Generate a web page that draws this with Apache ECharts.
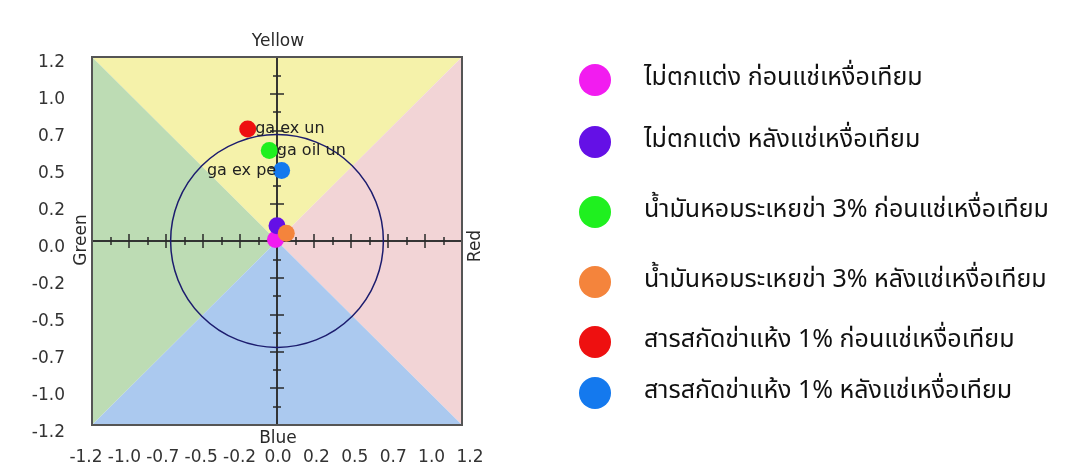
<!DOCTYPE html>
<html>
<head>
<meta charset="utf-8">
<script src="https://cdn.jsdelivr.net/npm/echarts@6/dist/echarts.min.js"></script>
<style>
  html, body { margin: 0; padding: 0; background: #ffffff; }
  #chart { width: 1075px; height: 476px; }
</style>
</head>
<body>
<div id="chart"></div>
<script>
// Colour-plane scatter: a* (green–red) against b* (blue–yellow)
const seriesNames = [
  'ไม่ตกแต่ง ก่อนแช่เหงื่อเทียม',
  'ไม่ตกแต่ง หลังแช่เหงื่อเทียม',
  'น้ำมันหอมระเหยข่า 3% ก่อนแช่เหงื่อเทียม',
  'น้ำมันหอมระเหยข่า 3% หลังแช่เหงื่อเทียม',
  'สารสกัดข่าแห้ง 1% ก่อนแช่เหงื่อเทียม',
  'สารสกัดข่าแห้ง 1% หลังแช่เหงื่อเทียม'
];
const aValues = [-0.01, 0.00, -0.05, 0.06, -0.19, 0.03];
const bValues = [0.01, 0.10, 0.59, 0.05, 0.73, 0.46];
const pointLabels = ['', '', 'ga oil un', '', 'ga ex un', 'ga ex pe'];
const circleRadius = [0.69];
const tickLabels = ['-1.2', '-1.0', '-0.7', '-0.5', '-0.2', '0.0', '0.2', '0.5', '0.7', '1.0', '1.2'];
const axisRange = [-1.2, 1.2];
const axisStep = 0.24;
const directionNames = ['Yellow', 'Blue', 'Green', 'Red'];

// styling
const dotColors = ['#f21cf0', '#6410e6', '#1ff01f', '#f4843c', '#ee1010', '#1479ee'];
const labelSides = ['right', 'right', 'right', 'right', 'right', 'left'];
const legendCentres = [75, 137, 207, 277, 337, 388];
const quadrantColors = { top: '#f5f2aa', left: '#bddcb4', right: '#f2d4d6', bottom: '#abc9ef' };
const tickFont = '"DejaVu Sans", "Liberation Sans", sans-serif';
const thaiFont = '"Noto Sans Thai", "Noto Sans", "DejaVu Sans", sans-serif';

const chart = echarts.init(document.getElementById('chart'));

const [lo, hi] = axisRange;

function crossAxis(extra) {
  return Object.assign({
    gridIndex: 0, type: 'value', min: lo, max: hi, interval: axisStep,
    axisLine: { onZero: true, onZeroAxisIndex: 0, lineStyle: { color: '#2a2a2a', width: 1.5 } },
    axisTick: { show: true, inside: false, length: 7, lineStyle: { color: '#2a2a2a', width: 1.5 } },
    minorTick: { show: true, splitNumber: 2, length: 4, lineStyle: { color: '#2a2a2a', width: 1.5 } },
    axisLabel: { show: false },
    splitLine: { show: false }
  }, extra);
}

function labelAxis(extra) {
  return Object.assign({
    gridIndex: 1, type: 'value', min: lo, max: hi, interval: axisStep,
    axisLine: { show: false }, axisTick: { show: false }, splitLine: { show: false }
  }, extra);
}

const tickLabelStyle = (margin) => ({
  color: '#333', fontFamily: tickFont, fontSize: 17, margin: margin,
  formatter: (v, i) => tickLabels[i]
});

const scatterSeries = seriesNames.map((name, i) => ({
  name: name,
  type: 'scatter',
  xAxisIndex: 0, yAxisIndex: 0,
  symbol: 'circle', symbolSize: 17,
  itemStyle: { color: dotColors[i], opacity: 1 },
  z: 5 + i,
  data: [[aValues[i], bValues[i]]],
  label: {
    show: pointLabels[i] !== '',
    position: labelSides[i],
    distance: labelSides[i] === 'left' ? -3 : -1,
    formatter: () => pointLabels[i],
    color: '#222', fontFamily: tickFont, fontSize: 16
  },
  emphasis: { disabled: true }
}));

const nameText = (text, x, y, rotation) => ({
  type: 'text', x: x, y: y, rotation: rotation || 0,
  style: { text: text, fill: '#2a2a2a', font: '17px ' + tickFont, textAlign: 'center', textVerticalAlign: 'middle' }
});

const option = {
  animation: false,
  backgroundColor: '#ffffff',
  grid: [
    { left: 92, top: 57, width: 370, height: 368, show: true, borderColor: '#555', borderWidth: 2, backgroundColor: 'transparent', z: 3 },
    { left: 86, top: 63, width: 384, height: 370, show: false }
  ],
  xAxis: [
    crossAxis({ position: 'bottom' }),
    crossAxis({ position: 'top' }),
    labelAxis({ position: 'bottom', axisLabel: tickLabelStyle(16) })
  ],
  yAxis: [
    crossAxis({ position: 'left' }),
    crossAxis({ position: 'right' }),
    labelAxis({ position: 'left', axisLabel: tickLabelStyle(21) })
  ],
  legend: seriesNames.map((name, i) => ({
    data: [name],
    left: 574,
    top: legendCentres[i] - 16,
    orient: 'vertical',
    icon: 'circle',
    itemWidth: 32, itemHeight: 32,
    selectedMode: false,
    textStyle: { color: '#111', fontFamily: thaiFont, fontSize: 25, padding: [0, 0, 0, 28] }
  })),
  graphic: [
    nameText(directionNames[0], 278, 42),
    nameText(directionNames[1], 278, 439),
    nameText(directionNames[2], 82, 240, Math.PI / 2),
    nameText(directionNames[3], 476, 246, Math.PI / 2)
  ],
  series: [
    {
      // hue sectors of the colour plane
      type: 'custom', xAxisIndex: 0, yAxisIndex: 0, z: 0, silent: true,
      data: [[0, 0]],
      renderItem: (params, api) => {
        const c = api.coord([0, 0]);
        const tl = api.coord([lo, hi]), tr = api.coord([hi, hi]);
        const bl = api.coord([lo, lo]), br = api.coord([hi, lo]);
        const tri = (pts, fill) => ({ type: 'polygon', shape: { points: pts }, style: { fill: fill } });
        return {
          type: 'group',
          children: [
            tri([tl, tr, c], quadrantColors.top),
            tri([tl, bl, c], quadrantColors.left),
            tri([tr, br, c], quadrantColors.right),
            tri([bl, br, c], quadrantColors.bottom)
          ]
        };
      }
    },
    {
      // mean chroma ring
      type: 'custom', xAxisIndex: 0, yAxisIndex: 0, z: 2, silent: true,
      data: circleRadius.map(r => [0, 0, r]),
      renderItem: (params, api) => {
        const c = api.coord([api.value(0), api.value(1)]);
        const r = api.size([api.value(2), 0])[0];
        return { type: 'circle', shape: { cx: c[0], cy: c[1], r: r }, style: { fill: 'none', stroke: '#1c1c6e', lineWidth: 1.5 } };
      }
    }
  ].concat(scatterSeries)
};

chart.setOption(option);
</script>
</body>
</html>
